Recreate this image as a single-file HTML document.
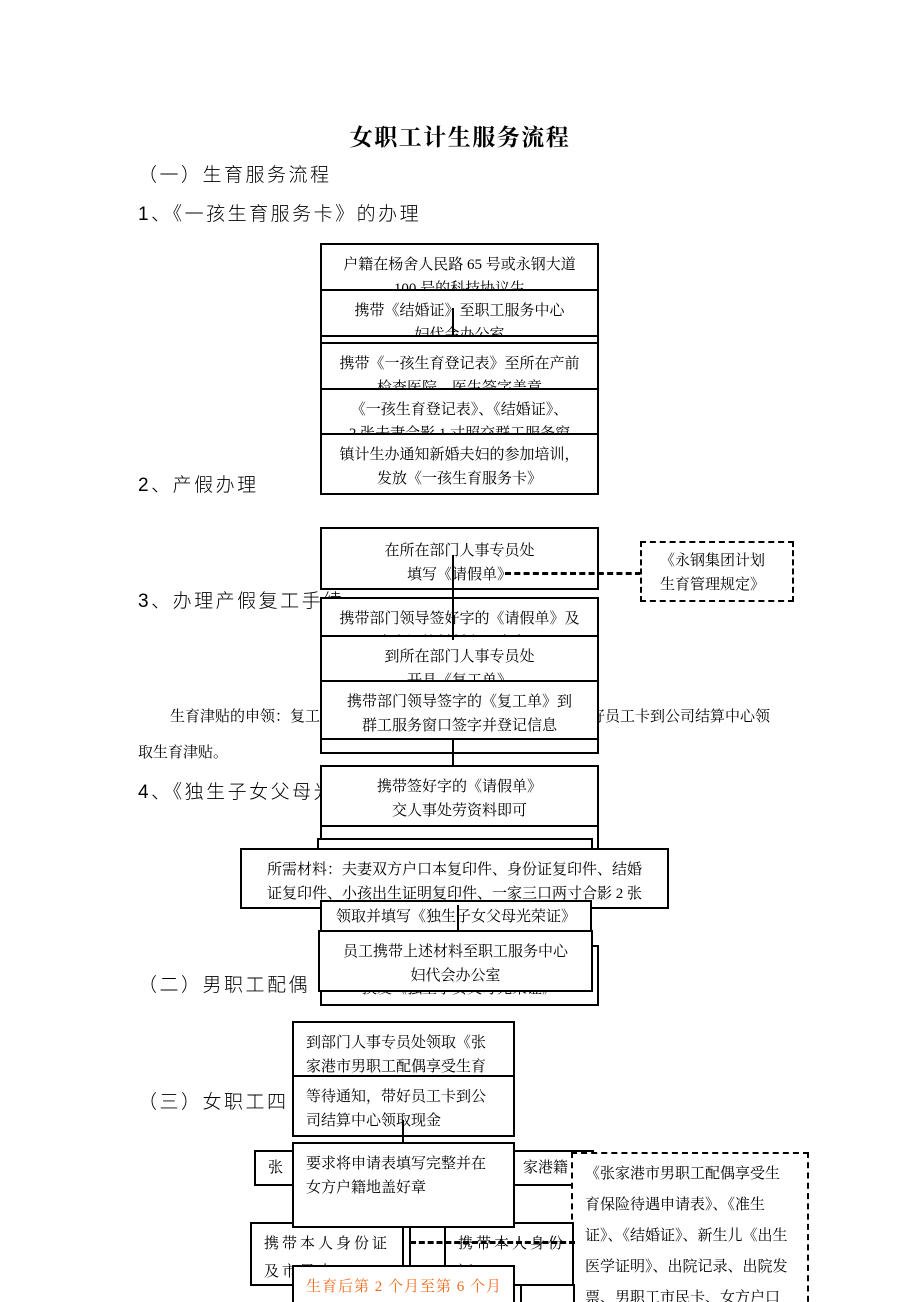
<!DOCTYPE html>
<html><head><meta charset="utf-8">
<style>
body{margin:0;background:#fff;}
#p{position:relative;width:920px;height:1302px;overflow:hidden;background:#fff;font-family:"Liberation Serif","Noto Serif CJK SC",serif;color:#000;}
.t{position:absolute;white-space:nowrap;}
.h{font-size:19px;letter-spacing:2.5px;font-family:"Liberation Sans","Noto Sans CJK SC",sans-serif;font-weight:300;}
.b{position:absolute;border:2px solid #000;background:#fff;box-sizing:border-box;overflow:hidden;font-size:15px;line-height:24px;text-align:center;padding-top:8px;}
.l{text-align:left;padding-left:12px;}
.vl{position:absolute;width:2px;background:#000;}
.dash{position:absolute;height:0;border-top:3px dashed #000;}
.db{position:absolute;border:2px dashed #000;box-sizing:border-box;background:#fff;font-size:15px;}
</style></head><body><div id="p">
<div class="t" style="left:0;width:920px;text-align:center;top:119px;font-size:23px;letter-spacing:1.5px;font-weight:bold;">女职工计生服务流程</div>
<div class="t h" style="left:138px;top:160px;">（一）生育服务流程</div>
<div class="t h" style="left:138px;top:199px;">1、《一孩生育服务卡》的办理</div>

<div class="b" style="left:320px;top:243px;width:279px;height:48px;">户籍在杨舍人民路 65 号或永钢大道<br>100 号的科技协议生</div>
<div class="b" style="left:320px;top:289px;width:279px;height:48px;">携带《结婚证》至职工服务中心<br>妇代会办公室</div>
<div class="b" style="left:320px;top:335px;width:279px;height:9px;padding:0"></div>
<div class="b" style="left:320px;top:342px;width:279px;height:48px;">携带《一孩生育登记表》至所在产前<br>检查医院，医生签字盖章</div>
<div class="b" style="left:320px;top:388px;width:279px;height:47px;">《一孩生育登记表》、《结婚证》、<br>2 张夫妻合影 1 寸照交群工服务窗</div>
<div class="b" style="left:320px;top:433px;width:279px;height:62px;">镇计生办通知新婚夫妇的参加培训，<br>发放《一孩生育服务卡》</div>
<div class="vl" style="left:452px;top:308px;height:28px;"></div>

<div class="t h" style="left:138px;top:470px;">2、产假办理</div>
<div class="t h" style="left:138px;top:586px;">3、办理产假复工手续</div>
<div class="t" style="left:170px;top:705px;font-size:15px;">生育津贴的申领：复工</div>
<div class="t" style="left:590px;top:705px;font-size:15px;">好员工卡到公司结算中心领</div>
<div class="t" style="left:138px;top:741px;font-size:15px;">取生育津贴。</div>

<div class="b" style="left:320px;top:527px;width:279px;height:63px;padding-top:10px;">在所在部门人事专员处<br>填写《请假单》</div>
<div class="dash" style="left:505px;top:572px;width:136px;border-top-style:dashed;border-top-width:3px;"></div>
<div class="db" style="left:640px;top:541px;width:154px;height:61px;padding:6px 0 0 18px;line-height:24px;">《永钢集团计划<br>生育管理规定》</div>
<div class="b" style="left:320px;top:597px;width:279px;height:40px;">携带部门领导签好字的《请假单》及<br>生育证等材料交人事专员</div>
<div class="b" style="left:320px;top:680px;width:279px;height:74px;"></div>
<div class="b" style="left:320px;top:635px;width:279px;height:47px;">到所在部门人事专员处<br>开具《复工单》</div>
<div class="b" style="left:320px;top:680px;width:279px;height:60px;">携带部门领导签字的《复工单》到<br>群工服务窗口签字并登记信息</div>
<div class="vl" style="left:452px;top:555px;height:85px;"></div>
<div class="vl" style="left:452px;top:740px;height:26px;"></div>

<div class="t h" style="left:138px;top:777px;">4、《独生子女父母光荣证》</div>
<div class="b" style="left:320px;top:765px;width:279px;height:62px;">携带签好字的《请假单》<br>交人事处劳资料即可</div>
<div class="b" style="left:320px;top:825px;width:279px;height:30px;"></div>
<div class="b" style="left:317px;top:838px;width:276px;height:20px;"></div>
<div class="b" style="left:240px;top:848px;width:429px;height:61px;">所需材料：夫妻双方户口本复印件、身份证复印件、结婚<br>证复印件、小孩出生证明复印件、一家三口两寸合影 2 张</div>
<div class="b" style="left:320px;top:945px;width:279px;height:61px;padding-top:30px;">换发《独生子女父母光荣证》</div>
<div class="b" style="left:320px;top:900px;width:272px;height:32px;padding-top:3px;">领取并填写《独生子女父母光荣证》</div>
<div class="vl" style="left:457px;top:905px;height:26px;"></div>
<div class="t h" style="left:138px;top:970px;">（二）男职工配偶</div>
<div class="b" style="left:318px;top:930px;width:275px;height:62px;">员工携带上述材料至职工服务中心<br>妇代会办公室</div>

<div class="b l" style="left:292px;top:1021px;width:223px;height:56px;">到部门人事专员处领取《张<br>家港市男职工配偶享受生育</div>
<div class="t h" style="left:138px;top:1087px;">（三）女职工四</div>
<div class="b l" style="left:292px;top:1075px;width:223px;height:62px;">等待通知，带好员工卡到公<br>司结算中心领取现金</div>
<div class="vl" style="left:402px;top:1120px;height:24px;"></div>
<div class="b l" style="left:254px;top:1150px;width:340px;height:36px;padding-top:4px;">张<span style="margin-left:240px">家港籍</span></div>
<div class="db" style="left:571px;top:1152px;width:238px;height:160px;padding:5px 0 0 12px;line-height:31px;">《张家港市男职工配偶享受生<br>育保险待遇申请表》、《准生<br>证》、《结婚证》、新生儿《出生<br>医学证明》、出院记录、出院发<br>票、男职工市民卡、女方户口<br>簿（女方是张家港户籍的）</div>
<div class="b" style="left:250px;top:1222px;width:161px;height:64px;text-align:left;padding-left:12px;letter-spacing:3px;line-height:28px;padding-top:6px;">携带本人身份证<br>及市民卡</div>
<div class="b" style="left:444px;top:1222px;width:130px;height:64px;text-align:left;padding-left:12px;letter-spacing:3px;line-height:28px;padding-top:6px;">携带本人身份证<br>及医保卡</div>
<div class="dash" style="left:410px;top:1241px;width:165px;"></div>
<div class="b l" style="left:292px;top:1142px;width:223px;height:86px;">要求将申请表填写完整并在<br>女方户籍地盖好章</div>
<div class="vl" style="left:402px;top:1226px;height:40px;"></div>
<div class="b" style="left:520px;top:1284px;width:55px;height:30px;"></div>
<div class="b l" style="left:292px;top:1265px;width:223px;height:50px;color:#f26b1d;letter-spacing:1px;">生育后第 2 个月至第 6 个月<br>内，携带材料至群工服务窗</div>
</div></body></html>
